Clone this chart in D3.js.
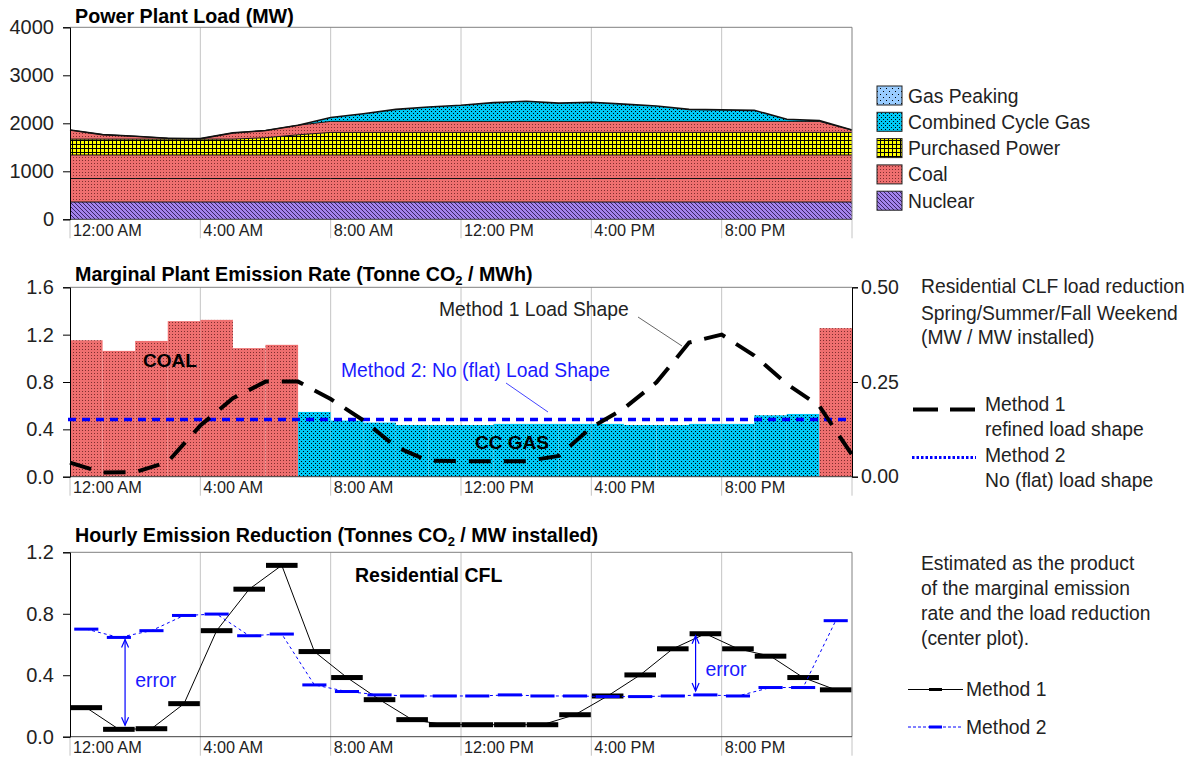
<!DOCTYPE html>
<html><head><meta charset="utf-8">
<script src="https://cdn.jsdelivr.net/npm/d3@7"></script>
<style>
body{margin:0;background:#fff;}
svg{display:block;font-family:"Liberation Sans",Arial,sans-serif;}
</style></head><body>
<svg id="c" width="1195" height="759"></svg>
<script>
// ---------- DATA ----------
const hours = [0,1,2,3,4,5,6,7,8,9,10,11,12,13,14,15,16,17,18,19,20,21,22,23,24];
const xTickValues = [0,4,8,12,16,20,24];
const xTickLabels = ["12:00 AM","4:00 AM","8:00 AM","12:00 PM","4:00 PM","8:00 PM",""];

// Top chart: stacked generation (MW) at each hour 0..24
const nuclear     = [360,360,360,360,360,360,360,360,360,360,360,360,360,360,360,360,360,360,360,360,360,360,360,360,360];
const coalBase1   = [490,490,490,490,490,490,490,490,490,490,490,490,490,490,490,490,490,490,490,490,490,490,490,490,490];
const coalBase2   = [490,490,490,490,490,490,490,490,490,490,490,490,490,490,490,490,490,490,490,490,490,490,490,490,490];
const purchased   = [330,330,330,330,330,330,360,420,470,470,470,470,470,470,470,470,470,470,470,470,470,470,470,470,470];
const coalMargin  = [190,95,60,20,10,130,150,200,230,230,230,230,230,230,230,230,230,230,230,230,230,230,230,230,50];
const ccGas       = [0,0,0,0,0,0,0,0,80,160,250,300,335,390,420,380,400,360,320,250,240,230,45,15,0];
const gasPeaking  = [0,0,0,0,0,0,0,0,0,0,0,0,0,0,0,0,0,0,0,0,0,0,0,0,0];
const topYTicks = [0,1000,2000,3000,4000];
const legendTop = ["Gas Peaking","Combined Cycle Gas","Purchased Power","Coal","Nuclear"];

// Middle chart: marginal emission rate per hour 0..23
const rateHours = [0,1,2,3,4,5,6,7,8,9,10,11,12,13,14,15,16,17,18,19,20,21,22,23];
const marginalRate = [1.153,1.063,1.147,1.314,1.325,1.086,1.114,0.547,0.474,0.457,0.437,0.437,0.437,0.446,0.446,0.446,0.446,0.437,0.437,0.446,0.446,0.519,0.53,1.255];
const marginalFuel = ["coal","coal","coal","coal","coal","coal","coal","cc","cc","cc","cc","cc","cc","cc","cc","cc","cc","cc","cc","cc","cc","cc","cc","coal"];
const loadShape1 = [0.037,0.011,0.012,0.039,0.135,0.207,0.251,0.251,0.205,0.149,0.079,0.042,0.041,0.041,0.041,0.055,0.13,0.18,0.249,0.354,0.375,0.32,0.245,0.186,0.058];
const loadShape2 = [0.151,0.151];
const midYTicks = [0,0.4,0.8,1.2,1.6];
const midYRTicks = [0,0.25,0.5];

// Bottom chart: hourly emission reduction per hour 0..23
const reduction1 = [0.189,0.048,0.052,0.215,0.69,0.96,1.115,0.554,0.385,0.241,0.111,0.078,0.078,0.078,0.078,0.143,0.265,0.402,0.572,0.67,0.572,0.524,0.385,0.305];
const reduction2 = [0.70,0.646,0.69,0.789,0.798,0.657,0.668,0.337,0.294,0.272,0.265,0.265,0.265,0.272,0.265,0.265,0.261,0.261,0.265,0.272,0.265,0.32,0.32,0.755];
const botYTicks = [0,0.4,0.8,1.2];
const errorMarks = [{h:1.69, a:0.646, b:0.048, lx:2.0, ly:0.37}, {h:19.2, a:0.67, b:0.272, lx:19.5, ly:0.44}];

// ---------- DRAW ----------
const svg = d3.select('#c');
const defs = svg.append('defs');
const FONT = '"Liberation Sans", Arial, sans-serif';

function pat(id, w, h, bg, fn){
  const p = defs.append('pattern').attr('id',id).attr('patternUnits','userSpaceOnUse').attr('width',w).attr('height',h);
  p.append('rect').attr('width',w).attr('height',h).attr('fill',bg);
  fn(p);
}
pat('pNuc',4,4,'#a383ec',p=>{
  p.append('path').attr('d','M0,0L4,4M-1,3L1,5M3,-1L5,1').attr('stroke','#3a2466').attr('stroke-width',1);
});
pat('pCoal',3,3,'#ee6f6f',p=>{
  p.append('rect').attr('x',1).attr('y',1).attr('width',1).attr('height',1).attr('fill','#7e2e2e');
});
pat('pPur',4,4,'#ffff00',p=>{
  p.append('rect').attr('width',4).attr('height',1).attr('fill','#000');
  p.append('rect').attr('width',1).attr('height',4).attr('fill','#000');
});
pat('pCC',4,4,'#00c8f5',p=>{
  p.append('rect').attr('x',1).attr('y',1).attr('width',1).attr('height',1).attr('fill','#000');
  p.append('rect').attr('x',3).attr('y',3).attr('width',1).attr('height',1).attr('fill','#000');
});
pat('pPeak',6,6,'#99ccff',p=>{
  p.append('rect').attr('x',1).attr('y',1).attr('width',1).attr('height',1).attr('fill','#000');
  p.append('rect').attr('x',4).attr('y',4).attr('width',1).attr('height',1).attr('fill','#000');
});

const X0 = 70, X1 = 852;
const x = d3.scaleLinear().domain([0,24]).range([X0,X1]);

function frame(yTop, yBot){
  const g = svg.append('g');
  g.selectAll('.gl').data(xTickValues).join('line')
    .attr('x1',d=>x(d)).attr('x2',d=>x(d))
    .attr('y1',d=> (d===0||d===24)? yBot : yTop).attr('y2',yBot+19)
    .attr('stroke','#c4c4c4').attr('stroke-width',1);
  return g;
}
function axes(yTop, yBot, yScale, ticks, fmt, rightBorder){
  const g = svg.append('g');
  g.append('line').attr('x1',X0).attr('x2',X1).attr('y1',yTop).attr('y2',yTop).attr('stroke','#808080');
  if(rightBorder) g.append('line').attr('x1',X1).attr('x2',X1).attr('y1',yTop).attr('y2',yBot).attr('stroke','#808080');
  g.append('line').attr('x1',X0).attr('x2',X1).attr('y1',yBot).attr('y2',yBot).attr('stroke','#404040');
  g.selectAll('.xl').data(xTickValues).join('text')
    .attr('x',d=>x(d)+3).attr('y',yBot+16.5)
    .attr('font-size',16.3).attr('fill','#222').text((d,i)=>xTickLabels[i]);
  const ax = d3.axisLeft(yScale).tickValues(ticks).tickFormat(fmt).tickSize(7).tickPadding(9);
  const a = svg.append('g').attr('transform',`translate(${X0},0)`).call(ax);
  a.select('.domain').attr('stroke','#000');
  a.selectAll('.tick line').attr('stroke','#000');
  a.selectAll('text').attr('font-size',20).attr('font-family',FONT).attr('fill','#222');
  return g;
}
function title(txt, y, parts){
  const t = svg.append('text').attr('x',75).attr('y',y).attr('font-size',19.7).attr('font-weight','bold').attr('fill','#000');
  if(parts){
    t.append('tspan').text(parts[0]);
    t.append('tspan').attr('font-size',13).attr('dy',4).text('2');
    t.append('tspan').attr('dy',-4).text(parts[1]);
  } else t.text(txt);
}

// ===== TOP CHART =====
const tTop = 27.3, tBot = 219.3;
const yT = d3.scaleLinear().domain([0,4000]).range([tBot,tTop]);
frame(tTop,tBot);
const table = hours.map((h,i)=>({h, nuclear:nuclear[i], coal1:coalBase1[i], coal2:coalBase2[i], purchased:purchased[i], coal3:coalMargin[i], cc:ccGas[i], peak:gasPeaking[i]}));
const keys = ['nuclear','coal1','coal2','purchased','coal3','cc','peak'];
const fills = {nuclear:'url(#pNuc)',coal1:'url(#pCoal)',coal2:'url(#pCoal)',purchased:'url(#pPur)',coal3:'url(#pCoal)',cc:'url(#pCC)',peak:'url(#pPeak)'};
const stacked = d3.stack().keys(keys)(table);
const area = d3.area().x(d=>x(d.data.h)).y0(d=>yT(d[0])).y1(d=>yT(d[1]));
const topLine = d3.line().x(d=>x(d.data.h)).y(d=>yT(d[1]));
svg.append('g').selectAll('path').data(stacked).join('path')
  .attr('d',area).attr('fill',d=>fills[d.key]);
svg.append('g').selectAll('path').data(stacked.filter(s=>s.key!=='peak')).join('path')
  .attr('d',topLine).attr('fill','none').attr('stroke','#111').attr('stroke-width',d=>d.key==='cc'?1.6:1);
axes(tTop,tBot,yT,topYTicks,d3.format('d'),true);
title('Power Plant Load (MW)',23);
const legFill = ['url(#pPeak)','url(#pCC)','url(#pPur)','url(#pCoal)','url(#pNuc)'];
const lg = svg.append('g');
legendTop.forEach((t,i)=>{
  const yy = 86 + 26.3*i;
  lg.append('rect').attr('x',877).attr('y',yy).attr('width',25).attr('height',19).attr('fill',legFill[i]).attr('stroke','#222');
  lg.append('text').attr('x',908).attr('y',yy+16.5).attr('font-size',19.3).attr('fill','#222').text(t);
});

// ===== MIDDLE CHART =====
const mTop = 287.3, mBot = 476.7;
const yM = d3.scaleLinear().domain([0,1.6]).range([mBot,mTop]);
const yMR = d3.scaleLinear().domain([0,0.5]).range([mBot,mTop]);
frame(mTop,mBot);
svg.append('g').selectAll('rect').data(rateHours).join('rect')
  .attr('x',d=>x(d)).attr('width',d=>x(d+1)-x(d))
  .attr('y',(d,i)=>yM(marginalRate[i])).attr('height',(d,i)=>mBot-yM(marginalRate[i]))
  .attr('fill',(d,i)=>marginalFuel[i]==='coal'?'url(#pCoal)':'url(#pCC)');
axes(mTop,mBot,yM,midYTicks,d3.format('.1f'),false);
const axR = d3.axisRight(yMR).tickValues(midYRTicks).tickFormat(d3.format('.2f')).tickSize(6).tickPadding(3);
const ar = svg.append('g').attr('transform',`translate(${X1},0)`).call(axR);
ar.select('.domain').attr('stroke','#000');
ar.selectAll('.tick line').attr('stroke','#000');
ar.selectAll('text').attr('font-size',19.5).attr('font-family',FONT).attr('fill','#222');
svg.append('line').attr('x1',x(0)-2).attr('x2',x(24)-6)
  .attr('y1',yMR(loadShape2[0])).attr('y2',yMR(loadShape2[1]))
  .attr('stroke','#0000ff').attr('stroke-width',3.5).attr('stroke-dasharray','8,6');
svg.append('path').datum(hours).attr('d',d3.line().x(d=>x(d)).y((d,i)=>yMR(loadShape1[i])))
  .attr('fill','none').attr('stroke','#000').attr('stroke-width',4).attr('stroke-dasharray','22,13');
title(null,280.5,['Marginal Plant Emission Rate (Tonne CO',' / MWh)']);
svg.append('text').attr('x',143).attr('y',367).attr('font-size',19).attr('font-weight','bold').text('COAL');
svg.append('text').attr('x',475).attr('y',448.5).attr('font-size',19).attr('font-weight','bold').text('CC GAS');
svg.append('text').attr('x',439).attr('y',316).attr('font-size',19.3).attr('fill','#222').text('Method 1 Load Shape');
svg.append('line').attr('x1',638).attr('y1',317).attr('x2',682).attr('y2',346).attr('stroke','#666').attr('stroke-width',1);
svg.append('text').attr('x',341).attr('y',377).attr('font-size',19.3).attr('fill','#1a1aff').text('Method 2: No (flat) Load Shape');
svg.append('line').attr('x1',506).attr('y1',383).attr('x2',548).attr('y2',412).attr('stroke','#4444ff').attr('stroke-width',1);
const ml = svg.append('g').attr('font-size',19.3).attr('fill','#222');
[['Residential CLF load reduction',293],['Spring/Summer/Fall Weekend',319.5],['(MW / MW installed)',344]].forEach(d=>{
  ml.append('text').attr('x',921).attr('y',d[1]).text(d[0]);
});
[['Method 1',411],['refined load shape',436],['Method 2',462],['No (flat) load shape',486.5]].forEach(d=>{
  ml.append('text').attr('x',985).attr('y',d[1]).text(d[0]);
});
svg.append('line').attr('x1',913).attr('x2',976).attr('y1',409.5).attr('y2',409.5).attr('stroke','#000').attr('stroke-width',4).attr('stroke-dasharray','25,12');
svg.append('line').attr('x1',912).attr('x2',976).attr('y1',457.5).attr('y2',457.5).attr('stroke','#0000ff').attr('stroke-width',3).attr('stroke-dasharray','2.5,2');

// ===== BOTTOM CHART =====
const bTop = 552.3, bBot = 736.7;
const yB = d3.scaleLinear().domain([0,1.2]).range([bBot,bTop]);
frame(bTop,bBot);
const ctr = d=>x(d+0.5);
svg.append('path').datum(rateHours).attr('d',d3.line().x(ctr).y((d,i)=>yB(reduction1[i])))
  .attr('fill','none').attr('stroke','#000').attr('stroke-width',1);
svg.append('g').selectAll('rect').data(rateHours).join('rect')
  .attr('x',d=>x(d)+0.5).attr('width',d=>x(d+1)-x(d)-1)
  .attr('y',(d,i)=>yB(reduction1[i])-2.5).attr('height',5).attr('fill','#000');
svg.append('path').datum(rateHours).attr('d',d3.line().x(ctr).y((d,i)=>yB(reduction2[i])))
  .attr('fill','none').attr('stroke','#0000ff').attr('stroke-width',1).attr('stroke-dasharray','3,3');
svg.append('g').selectAll('rect').data(rateHours).join('rect')
  .attr('x',d=>x(d+0.13)).attr('width',d=>x(d+0.87)-x(d+0.13))
  .attr('y',(d,i)=>yB(reduction2[i])-1.5).attr('height',3).attr('fill','#0000ff');
axes(bTop,bBot,yB,botYTicks,d3.format('.1f'),true);
title(null,542,['Hourly Emission Reduction (Tonnes CO',' / MW installed)']);
svg.append('text').attr('x',355).attr('y',582).attr('font-size',19.5).attr('font-weight','bold').text('Residential CFL');
errorMarks.forEach(e=>{
  const xx = x(e.h), ya = yB(e.a)+2, yb = yB(e.b)-4;
  const g = svg.append('g').attr('stroke','#0000ff').attr('fill','none').attr('stroke-width',1.2);
  g.append('line').attr('x1',xx).attr('x2',xx).attr('y1',ya).attr('y2',yb);
  g.append('path').attr('d',`M${xx-3.5},${ya+8}L${xx},${ya}L${xx+3.5},${ya+8}`);
  g.append('path').attr('d',`M${xx-3.5},${yb-8}L${xx},${yb}L${xx+3.5},${yb-8}`);
  svg.append('text').attr('x',x(e.lx)).attr('y',yB(e.ly)+7).attr('font-size',19.5).attr('fill','#1a1aff').text('error');
});
const bl = svg.append('g').attr('font-size',19.3).attr('fill','#222');
[['Estimated as the product',570],['of the marginal emission',595],['rate and the load reduction',620],['(center plot).',645]].forEach(d=>{
  bl.append('text').attr('x',921).attr('y',d[1]).text(d[0]);
});
bl.append('text').attr('x',966).attr('y',696).text('Method 1');
bl.append('text').attr('x',966).attr('y',733.5).text('Method 2');
svg.append('line').attr('x1',908).attr('x2',963).attr('y1',689.5).attr('y2',689.5).attr('stroke','#000').attr('stroke-width',1);
svg.append('rect').attr('x',929).attr('y',688).attr('width',13).attr('height',3).attr('fill','#000');
svg.append('line').attr('x1',908).attr('x2',963).attr('y1',727).attr('y2',727).attr('stroke','#0000ff').attr('stroke-width',1).attr('stroke-dasharray','3,2');
svg.append('rect').attr('x',929).attr('y',725.5).attr('width',13).attr('height',3).attr('fill','#0000ff');
</script>
</body></html>
